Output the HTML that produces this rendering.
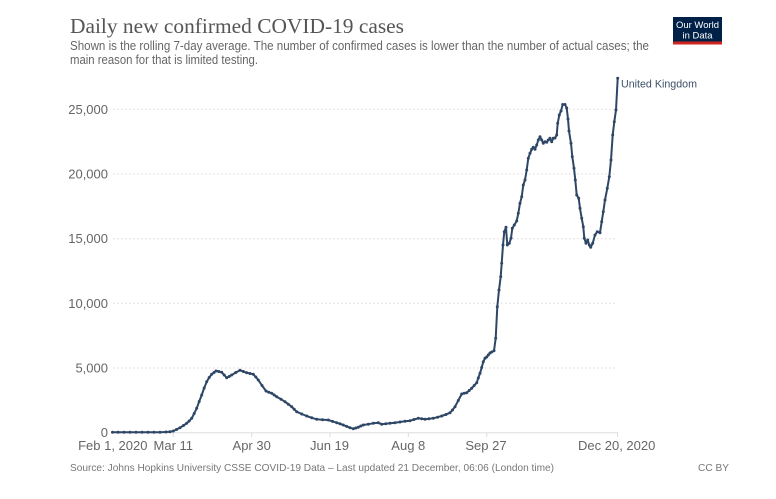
<!DOCTYPE html>
<html>
<head>
<meta charset="utf-8">
<style>
html,body{margin:0;padding:0;background:#fff;}
svg{display:block;}
text{font-family:"Liberation Sans",Arial,sans-serif;}
</style>
</head>
<body>
<svg width="776" height="499" viewBox="0 0 776 499" xmlns="http://www.w3.org/2000/svg">
<defs>
<marker id="dot" viewBox="-2 -2 4 4" markerWidth="4" markerHeight="4" markerUnits="userSpaceOnUse" refX="0" refY="0">
<circle cx="0" cy="0" r="1.5" fill="#2f4766"/>
</marker>
</defs>
<rect width="776" height="499" fill="#fff"/>

<!-- Title -->
<text x="70" y="33" font-family="Liberation Serif, serif" style="font-family:'Liberation Serif',serif" font-size="21" fill="#555" textLength="334" lengthAdjust="spacingAndGlyphs">Daily new confirmed COVID-19 cases</text>
<text x="70" y="50" font-size="12.5" fill="#666" textLength="579" lengthAdjust="spacingAndGlyphs">Shown is the rolling 7-day average. The number of confirmed cases is lower than the number of actual cases; the</text>
<text x="70" y="64" font-size="12.5" fill="#666" textLength="188" lengthAdjust="spacingAndGlyphs">main reason for that is limited testing.</text>

<!-- Logo -->
<rect x="673" y="17" width="49" height="27" fill="#002147"/>
<rect x="673" y="41.5" width="49" height="3" fill="#ce261e"/>
<text x="697.5" y="28" font-size="9.5" fill="#fff" text-anchor="middle" textLength="43" lengthAdjust="spacingAndGlyphs">Our World</text>
<text x="697.5" y="38.5" font-size="9.5" fill="#fff" text-anchor="middle" textLength="30" lengthAdjust="spacingAndGlyphs">in Data</text>

<!-- Gridlines -->
<g stroke="#e2d6da" stroke-width="1" stroke-dasharray="1.5,2.5">
<line x1="113" y1="109.3" x2="617" y2="109.3"/>
<line x1="113" y1="174" x2="617" y2="174"/>
<line x1="113" y1="238.7" x2="617" y2="238.7"/>
<line x1="113" y1="303.3" x2="617" y2="303.3"/>
<line x1="113" y1="368" x2="617" y2="368"/>
</g>

<!-- Y labels -->
<g font-size="13" fill="#666" text-anchor="end">
<text x="108" y="113.8">25,000</text>
<text x="108" y="178.5">20,000</text>
<text x="108" y="243.2">15,000</text>
<text x="108" y="307.8">10,000</text>
<text x="108" y="372.5">5,000</text>
<text x="108" y="437.2">0</text>
</g>

<!-- X axis -->
<line x1="112" y1="432.7" x2="618" y2="432.7" stroke="#ddd" stroke-width="1"/>
<g stroke="#ddd" stroke-width="1">
<line x1="173.3" y1="432.7" x2="173.3" y2="437"/>
<line x1="251.7" y1="432.7" x2="251.7" y2="437"/>
<line x1="330" y1="432.7" x2="330" y2="437"/>
<line x1="408.3" y1="432.7" x2="408.3" y2="437"/>
<line x1="486.7" y1="432.7" x2="486.7" y2="437"/>
<line x1="617.5" y1="432.7" x2="617.5" y2="437"/>
</g>
<g font-size="13" fill="#666" text-anchor="middle">
<text x="112.8" y="450">Feb 1, 2020</text>
<text x="173.3" y="450">Mar 11</text>
<text x="251.7" y="450">Apr 30</text>
<text x="329.5" y="450">Jun 19</text>
<text x="408.3" y="450">Aug 8</text>
<text x="486" y="450">Sep 27</text>
<text x="616.7" y="450">Dec 20, 2020</text>
</g>

<!-- Series -->
<polyline fill="none" stroke="#2f4766" stroke-width="2" stroke-linejoin="round" marker-start="url(#dot)" marker-mid="url(#dot)" marker-end="url(#dot)" points="
112.5,432.2 118,432.2 124,432.2 130,432.2 136,432.2 142,432.2 148,432.2 154,432.2 160,432.2 166,432 170,431.8 173.3,431 176.5,429.5 180,427.7 183.5,425.5 186.7,423.3 189.2,421 191.7,418.3 194.2,413.5 196.7,408.3 199.2,401.5 201.7,395 204.2,388 206.7,381.7 209.2,377.5 211.7,374.3 214,372.5 216,371 218.8,371.5 221.7,372.3 224.2,375 226.7,377.7 229.2,376.5 231.7,375 235.8,372.5 240,370.3 243.3,371.5 246.7,372.7 250,373.5 253.3,374.3 255.8,377 258.3,380 262,385.5 266,391 268.8,392.3 271.7,393.3 274.2,395 276.7,396.7 281,399.2 285,401.7 288.3,404.2 291.7,406.7 294.2,409.3 296.7,411.7 301.7,414 306.7,416 311.7,417.8 316.7,419.3 322.5,419.7 328.3,420 332.5,421.4 336.7,422.7 340,423.8 343.3,425 346.7,426.4 350,427.7 353.3,428.7 355.8,428 358.3,427.3 360.8,426 363.3,425 368.3,424.2 373.3,423.3 378.3,422.7 381.7,424.3 385.8,423.8 390,423.3 395,422.7 400,422 405,421.3 410,420.7 414,419.5 418.3,418.3 421.7,418.8 425,419.3 429,418.8 433.3,418.3 437.5,417.2 441.7,416 446,414.5 450,412.7 452.5,410 455,406.7 458.3,400.5 461.7,394 464.2,393.3 466.7,392.7 469.2,390.5 471.7,388.3 474.2,385.5 476.7,382.7 478.3,378 480,373.3 481.7,367.5 483.3,361.7 485,358.3 486.7,357 488.3,355 490,353 491.7,352 494,350.7 495.7,338.3 497.3,306.7 499,290 500.7,276.7 501.7,263.3 503,245 504.3,231.7 506,227.3 507.3,245 509.3,243.3 511,238.3 512.3,228.3 514.3,225 516.7,221 518.3,213.3 520,203.3 521.7,196.7 523.3,185 525,180 526.7,170 528.3,158.3 530,153.3 531.7,149.3 533.3,147.3 535,149.3 536.7,145 538.3,140 540,136.7 541.7,140 543.3,143.3 545,141.7 546.7,142.3 548.3,140 550,138.3 551.7,141.7 553.3,138.3 555,138 556.7,135 557.7,123.3 559.3,115 561,111 562.7,104.5 565,104.5 566.7,108 568,119 569,131 571,143.3 572.3,156.7 574,168.3 575.3,180 576.7,195 578.7,198.3 580,208.3 581.7,218.3 583.3,226.7 584.3,238.3 586,243.3 587.7,240 589.3,245 590.7,247.3 592.7,243.3 595,235 597.3,231.7 600,232.7 601.7,221.7 603.3,211.7 605,200 607.3,188.3 609.3,176.7 611,160 612.7,135 614.3,121.7 616,110 617.7,78.3"/>

<text x="621" y="87.5" font-size="11" fill="#3c4f66" textLength="76" lengthAdjust="spacingAndGlyphs">United Kingdom</text>

<!-- Footer -->
<text x="70" y="471" font-size="10.5" fill="#777" textLength="484" lengthAdjust="spacingAndGlyphs">Source: Johns Hopkins University CSSE COVID-19 Data – Last updated 21 December, 06:06 (London time)</text>
<text x="729" y="471" font-size="10.5" fill="#777" text-anchor="end" textLength="31" lengthAdjust="spacingAndGlyphs">CC BY</text>
</svg>
</body>
</html>
